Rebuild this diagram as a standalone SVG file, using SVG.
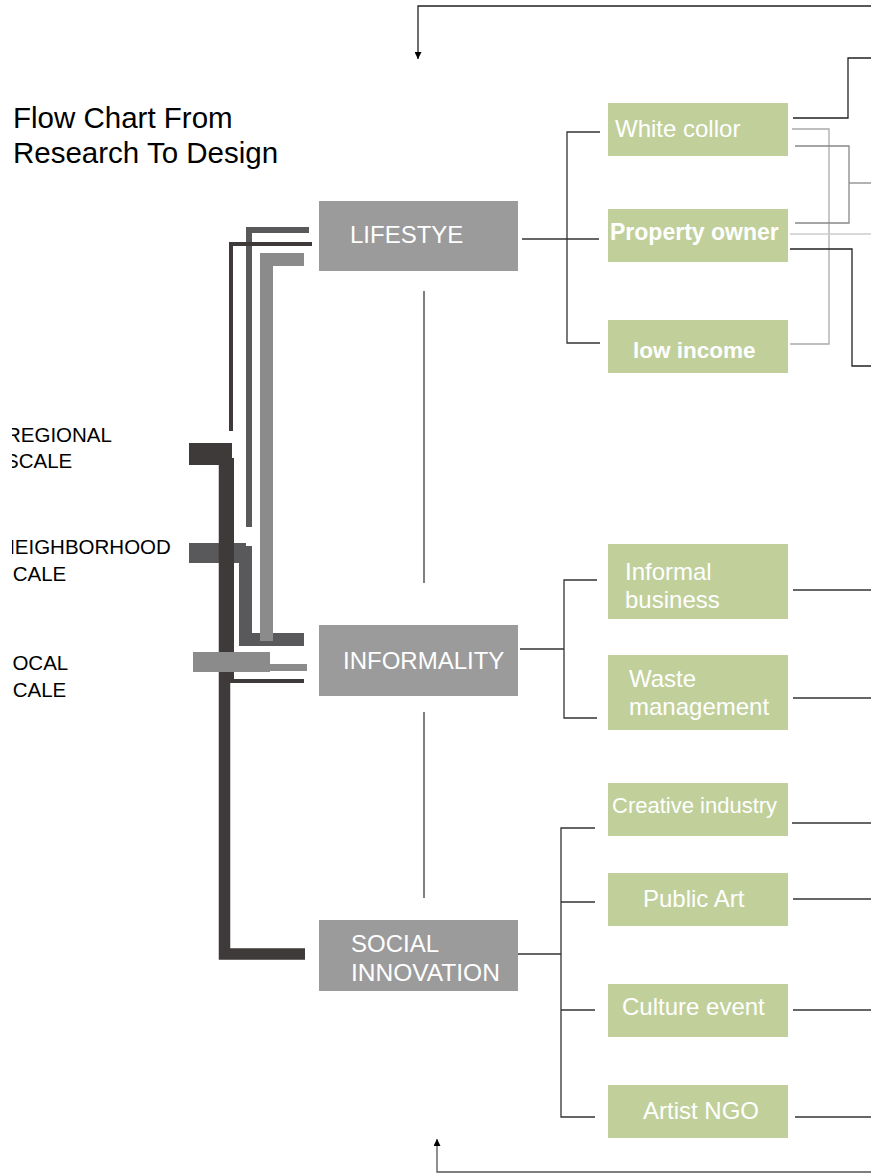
<svg xmlns="http://www.w3.org/2000/svg" width="871" height="1173" viewBox="0 0 871 1173">
<style>
.t{font-family:"Liberation Sans",Arial,sans-serif}
.gray rect{fill:#9b9b9b}
.green rect{fill:#c1d09b}
.wt{fill:#fff;font-family:"Liberation Sans",Arial,sans-serif;font-size:24px}
.bt{fill:#fff;font-family:"Liberation Sans",Arial,sans-serif;font-weight:bold}
.scale{font-family:"Liberation Sans",Arial,sans-serif;font-size:20.5px;fill:#000}
.c{fill:none;stroke:#333;stroke-width:1.3}
.cg{fill:none;stroke:#555;stroke-width:1.5}
</style>
<defs>
<marker id="ah" viewBox="0 0 10 10" refX="10" refY="5" markerWidth="7" markerHeight="7" orient="auto" markerUnits="userSpaceOnUse">
<path d="M0 0 L10 5 L0 10 Z" fill="#000"/>
</marker>
<clipPath id="lc"><rect x="12" y="0" width="300" height="1173"/></clipPath>
</defs>
<rect x="0" y="0" width="871" height="1173" fill="#fff"/>

<g id="title">
<text class="t" x="13" y="128" font-size="29.5">Flow Chart From</text>
<text class="t" x="13" y="163" font-size="29.5">Research To Design</text>
</g>

<g id="scale-labels" clip-path="url(#lc)">
<text class="scale" x="6" y="442">REGIONAL</text>
<text class="scale" x="5" y="468">SCALE</text>
<text class="scale" x="0" y="554">NEIGHBORHOOD</text>
<text class="scale" x="-1" y="581">SCALE</text>
<text class="scale" x="1" y="670">LOCAL</text>
<text class="scale" x="-1" y="697">SCALE</text>
</g>

<g id="scale-bars">
<path d="M249 527 V230 H309" fill="none" stroke="#59585a" stroke-width="6"/>
<path d="M231 431 V244 H312" fill="none" stroke="#3e3a39" stroke-width="4"/>
<rect x="189" y="543" width="57" height="20" fill="#59585a"/>
<path d="M245.5 546 V639.5 H304" fill="none" stroke="#59585a" stroke-width="13"/>
<path d="M266.5 641 V259.5 H304" fill="none" stroke="#8b8b8b" stroke-width="13"/>
<rect x="189" y="443" width="43" height="22" fill="#3e3a39"/>
<path d="M224.5 458 V954 H305" fill="none" stroke="#3e3a39" stroke-width="11.5"/>
<path d="M232 458 V681 H304" fill="none" stroke="#3e3a39" stroke-width="4"/>
<rect x="193" y="652" width="77" height="20" fill="#8b8b8b"/>
<rect x="270" y="664" width="37" height="7" fill="#8b8b8b"/>
</g>

<g id="connectors">
<path class="cg" d="M424 291 V583"/>
<path class="cg" d="M424 712 V898"/>
<path class="c" d="M522 239 H599"/>
<path class="c" d="M600 132 H567 V343 H600"/>
<path class="c" d="M520 649 H564"/>
<path class="c" d="M597 580 H564 V718 H597"/>
<path class="c" d="M518 954 H561"/>
<path class="c" d="M595 828 H561 V1117 H595"/>
<path class="c" d="M561 902 H595"/>
<path class="c" d="M561 1010 H595"/>
<path class="c" d="M793 590 H871"/>
<path class="c" d="M793 698 H871"/>
<path class="c" d="M792 823 H871"/>
<path class="c" d="M793 899 H871"/>
<path class="c" d="M793 1010 H871"/>
<path class="c" d="M795 1117 H871"/>
<path d="M793 118 H848 V58 H871" fill="none" stroke="#222" stroke-width="1.3"/>
<path d="M792 129 H829 V344 H790" fill="none" stroke="#aaa" stroke-width="1.3"/>
<path d="M795 146 H849 V223 H795" fill="none" stroke="#888" stroke-width="1.3"/>
<path d="M849 183 H871" fill="none" stroke="#888" stroke-width="1.3"/>
<path d="M790 234 H871" fill="none" stroke="#ccc" stroke-width="1.3"/>
<path d="M790 249 H852 V366 H871" fill="none" stroke="#222" stroke-width="1.3"/>
<path d="M871 6 H418 V59" fill="none" stroke="#222" stroke-width="1.3" marker-end="url(#ah)"/>
<path d="M871 1172 H437 V1139" fill="none" stroke="#555" stroke-width="1.3" marker-end="url(#ah)"/>
</g>

<g id="lifestye" class="gray">
<rect x="319" y="201" width="199" height="70"/>
<text class="wt" x="350" y="243">LIFESTYE</text>
</g>
<g id="informality" class="gray">
<rect x="319" y="625" width="199" height="71"/>
<text class="wt" x="343" y="669">INFORMALITY</text>
</g>
<g id="social-innovation" class="gray">
<rect x="319" y="920" width="199" height="71"/>
<text class="wt" x="351" y="952">SOCIAL</text>
<text class="wt" x="351" y="981" style="font-size:24.5px">INNOVATION</text>
</g>

<g id="white-collor" class="green">
<rect x="608" y="103" width="180" height="53"/>
<text class="wt" x="615" y="137">White collor</text>
</g>
<g id="property-owner" class="green">
<rect x="608" y="209" width="180" height="53"/>
<text class="bt" x="610" y="240" font-size="23">Property owner</text>
</g>
<g id="low-income" class="green">
<rect x="608" y="320" width="180" height="53"/>
<text class="bt" x="633" y="358" font-size="22.5">low income</text>
</g>
<g id="informal-business" class="green">
<rect x="608" y="544" width="180" height="75"/>
<text class="wt" x="625" y="580">Informal</text>
<text class="wt" x="625" y="608">business</text>
</g>
<g id="waste-management" class="green">
<rect x="608" y="655" width="180" height="75"/>
<text class="wt" x="629" y="687">Waste</text>
<text class="wt" x="629" y="715">management</text>
</g>
<g id="creative-industry" class="green">
<rect x="608" y="783" width="180" height="53"/>
<text class="wt" x="612" y="813" style="font-size:22px">Creative industry</text>
</g>
<g id="public-art" class="green">
<rect x="608" y="873" width="180" height="53"/>
<text class="wt" x="643" y="907">Public Art</text>
</g>
<g id="culture-event" class="green">
<rect x="608" y="984" width="180" height="53"/>
<text class="wt" x="622" y="1015">Culture event</text>
</g>
<g id="artist-ngo" class="green">
<rect x="608" y="1085" width="180" height="53"/>
<text class="wt" x="643" y="1119">Artist NGO</text>
</g>
</svg>
